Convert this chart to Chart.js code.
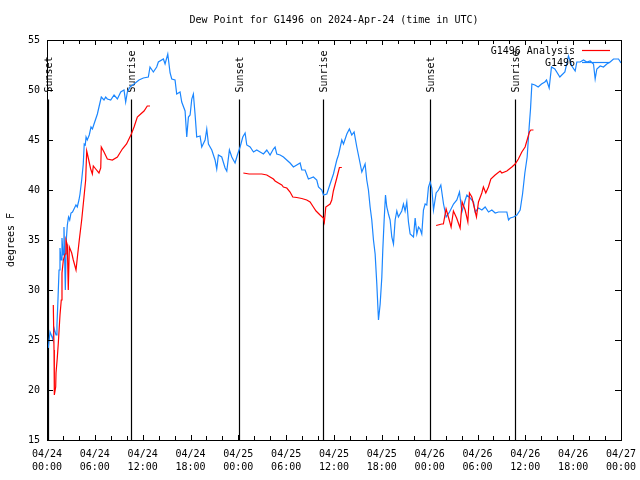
<!DOCTYPE html>
<html><head><meta charset="utf-8">
<script src="https://cdn.jsdelivr.net/npm/chart.js@4"></script>
<style>html,body{margin:0;padding:0;background:#fff}#wrap{width:640px;height:480px}</style>
</head><body><div id="wrap"><canvas id="c" width="640" height="480"></canvas></div>
<script>
const titleText = 'Dew Point for G1496 on 2024-Apr-24 (time in UTC)';
const yAxisTitle = 'degrees F';
const seriesNames = ['G1496 Analysis', 'G1496'];
const tickDates = ['04/24','04/24','04/24','04/24','04/25','04/25','04/25','04/25','04/26','04/26','04/26','04/26','04/27'];
const tickTimes = ['00:00','06:00','12:00','18:00','00:00','06:00','12:00','18:00','00:00','06:00','12:00','18:00','00:00'];
const eventNames = ['Sunset','Sunrise','Sunset','Sunrise','Sunset','Sunrise'];
const eventHours = [0.12, 10.58, 24.05, 34.68, 48.1, 58.65];
const eventTop = 49.05;

// G1496 observations: hours since 04/24 00:00 UTC, degrees F
const obsHours = [0.16,0.38,0.63,0.75,0.88,1.13,1.25,1.38,1.51,1.63,1.76,1.88,2.01,2.13,2.30,2.42,2.55,2.70,2.85,3.01,3.20,3.45,3.63,3.80,4.01,4.14,4.35,4.55,4.67,4.80,4.90,5.05,5.30,5.52,5.70,5.90,6.32,6.52,6.81,7.15,7.36,7.57,7.99,8.41,8.83,9.25,9.66,9.87,10.08,10.41,10.92,11.54,12.08,12.71,12.92,13.34,13.76,13.97,14.60,14.81,15.15,15.44,15.65,16.06,16.27,16.69,16.90,17.32,17.53,17.74,17.95,18.16,18.36,18.57,18.78,19.20,19.41,19.83,20.04,20.25,20.67,21.08,21.29,21.50,21.92,22.34,22.55,22.88,23.18,23.38,23.59,23.88,24.22,24.56,24.85,25.06,25.48,25.90,26.31,26.73,27.15,27.57,27.98,28.40,28.61,28.82,29.24,29.66,30.07,30.49,30.91,31.33,31.75,31.96,32.37,32.79,33.42,33.84,34.05,34.47,34.68,35.10,35.51,35.93,36.35,36.56,36.98,37.19,37.61,37.93,38.23,38.52,38.86,39.19,39.49,39.90,40.11,40.32,40.53,40.74,40.95,41.16,41.37,41.58,41.79,42.00,42.12,42.29,42.46,42.62,42.83,43.04,43.25,43.46,43.67,43.88,44.08,44.50,44.71,44.92,45.13,45.34,45.55,45.97,46.18,46.39,46.60,46.80,47.01,47.22,47.43,47.64,47.85,48.06,48.27,48.48,48.81,49.11,49.40,49.74,50.07,50.49,50.99,51.41,51.74,52.04,52.46,52.67,53.08,53.50,53.71,54.13,54.55,54.96,55.38,55.80,56.22,56.63,57.05,57.68,57.89,58.10,58.52,58.94,59.35,59.65,59.94,60.23,60.48,60.65,60.82,61.20,61.61,62.03,62.45,62.66,62.99,63.28,63.70,64.33,64.96,65.41,65.83,66.25,66.46,66.88,67.30,67.71,68.13,68.55,68.76,68.97,69.39,69.80,70.22,70.64,71.06,71.69,72.00];
const obsValues = [24.2,25.8,25.3,25.0,26.2,25.5,26.5,29.1,32.0,34.2,33.0,35.2,33.5,36.3,30.0,35.0,36.5,37.3,37.0,37.7,37.8,38.2,38.5,38.3,39.0,39.6,41.0,42.6,44.6,44.5,45.3,45.0,45.5,46.3,46.1,46.6,47.6,48.3,49.3,49.0,49.3,49.1,49.0,49.5,49.1,49.8,50.0,48.8,49.8,50.3,50.6,51.0,51.2,51.3,52.3,51.8,52.3,52.8,53.1,52.6,53.6,51.7,51.1,51.0,49.6,49.8,48.8,47.9,45.3,47.3,47.5,49.1,49.6,47.6,45.3,45.4,44.3,45.0,46.1,44.6,44.0,43.0,42.1,43.5,43.3,42.2,41.9,44.0,43.3,43.0,42.7,43.5,44.3,45.3,45.7,44.5,44.3,43.8,44.0,43.8,43.6,44.0,43.5,44.1,44.3,43.6,43.5,43.3,43.0,42.7,42.3,42.5,42.7,42.0,42.0,41.1,41.3,41.0,40.3,40.0,39.5,39.6,40.6,41.6,43.0,43.5,45.0,44.6,45.6,46.1,45.5,45.8,44.3,43.0,41.8,42.6,41.0,40.0,38.3,37.0,35.0,33.6,30.6,27.0,28.6,31.3,34.0,37.0,39.5,38.3,37.6,37.0,35.3,34.6,37.0,37.9,37.3,37.9,38.6,37.9,38.8,36.8,35.6,35.3,37.2,35.6,36.3,36.1,35.6,38.0,38.6,38.5,40.3,40.8,40.2,38.0,39.7,40.0,40.5,38.6,37.3,37.8,38.6,39.0,39.8,37.8,39.0,39.5,39.2,38.8,37.8,38.2,38.0,38.3,37.8,38.0,37.7,37.8,37.8,37.8,37.0,37.2,37.3,37.5,38.0,39.6,41.7,43.3,46.3,48.1,50.6,50.5,50.3,50.6,50.8,51.0,50.2,52.3,52.1,51.3,51.8,53.4,52.4,51.9,52.8,52.8,53.0,52.8,52.9,52.6,51.1,52.1,52.4,52.3,52.6,52.8,53.1,53.1,52.7];

// G1496 Analysis (null = no analysis, line break)
const anaHours = [0.79,0.88,0.92,1.09,1.13,1.29,1.42,1.63,1.79,1.88,2.05,2.26,2.38,2.55,2.67,2.80,3.10,3.30,3.64,3.80,4.05,4.35,4.64,4.85,4.98,5.15,5.48,5.69,5.81,6.11,6.52,6.74,6.81,7.15,7.57,8.20,8.83,9.45,9.98,10.58,10.92,11.33,11.75,12.17,12.58,12.92,18.0,24.63,25.35,26.94,27.57,27.98,28.40,28.61,29.02,29.45,29.65,30.08,30.49,30.83,31.33,31.96,32.58,33.00,33.41,33.75,34.25,34.67,34.79,34.97,35.51,35.72,35.92,36.35,36.68,36.98,42.0,48.81,49.52,49.72,50.06,50.35,50.69,50.98,51.38,51.82,52.07,52.45,52.79,52.99,53.29,53.58,53.87,54.12,54.54,54.74,55.04,55.37,55.67,56.21,56.84,57.05,57.68,58.31,58.72,59.13,59.56,59.97,60.26,60.51,60.69,61.02];
const anaValues = [28.5,24.0,19.5,20.3,21.7,23.2,24.7,27.5,29.0,31.7,33.0,33.6,35.0,34.5,30.0,34.3,33.7,33.0,32.0,33.2,35.0,37.0,39.3,41.0,43.9,43.3,42.1,41.6,42.4,42.1,41.7,42.2,44.3,43.8,43.1,43.0,43.3,44.1,44.6,45.6,46.3,47.3,47.6,47.9,48.4,48.4,null,41.7,41.6,41.6,41.5,41.3,41.1,40.9,40.7,40.5,40.3,40.2,39.8,39.3,39.25,39.15,39.0,38.8,38.3,37.9,37.5,37.2,36.8,38.3,38.6,39.0,39.9,41.2,42.25,42.25,null,36.45,36.6,36.6,38.1,37.3,36.3,37.9,37.2,36.2,38.8,38.0,36.8,39.7,39.3,38.3,37.3,38.8,39.7,40.3,39.7,40.3,41.1,41.5,41.9,41.7,41.9,42.3,42.6,43.1,43.8,44.3,45.1,45.8,46.0,46.0];

const FONT = '"DejaVu Sans Mono", "Liberation Mono", monospace';
const RED = '#ff0000';
const BLUE = '#1a86ff';

const obsData = obsHours.map((h, i) => ({x: h, y: obsValues[i]}));
const anaData = anaHours.map((h, i) => ({x: h, y: anaValues[i]}));

const framePlugin = {
  id: 'frame',
  beforeDatasetsDraw(chart) {
    const {ctx, scales: {x, y}} = chart;
    ctx.save();
    ctx.strokeStyle = '#000';
    ctx.fillStyle = '#000';
    ctx.lineWidth = 1.2;
    ctx.font = '10px ' + FONT;
    eventHours.forEach((h, i) => {
      const px = Math.round(x.getPixelForValue(h)) + 0.5;
      const yb = y.getPixelForValue(15);
      const yt = y.getPixelForValue(eventTop);
      ctx.beginPath(); ctx.moveTo(px, yb); ctx.lineTo(px, yt); ctx.stroke();
      ctx.save();
      ctx.translate(px + 1, yt - 7);
      ctx.rotate(-Math.PI / 2);
      ctx.textAlign = 'left';
      ctx.textBaseline = 'middle';
      ctx.fillText(eventNames[i], 0, 0);
      ctx.restore();
    });
    ctx.restore();
  },
  afterDatasetsDraw(chart) {
    const {ctx, chartArea: a, scales: {x, y}} = chart;
    ctx.save();
    ctx.strokeStyle = '#000';
    ctx.lineWidth = 1;
    ctx.strokeRect(Math.round(a.left) + 0.5, Math.round(a.top) + 0.5, Math.round(a.right - a.left), Math.round(a.bottom - a.top));
    ctx.beginPath();
    for (let v = 15; v <= 55; v += 5) {
      const py = Math.round(y.getPixelForValue(v)) + 0.5;
      ctx.moveTo(a.left, py); ctx.lineTo(a.left + 6, py);
      ctx.moveTo(a.right - 6, py); ctx.lineTo(a.right, py);
    }
    for (let h = 0; h <= 72; h += 2) {
      const px = Math.round(x.getPixelForValue(h)) + 0.5;
      const len = (h % 6 === 0) ? 5 : 4;
      ctx.moveTo(px, a.bottom); ctx.lineTo(px, a.bottom - len);
      ctx.moveTo(px, a.top); ctx.lineTo(px, a.top + len);
    }
    ctx.stroke();
    // legend
    ctx.font = '10px ' + FONT;
    ctx.textAlign = 'right';
    ctx.textBaseline = 'middle';
    ctx.fillStyle = '#000';
    const lx = a.right - 46;
    const rows = [{t: seriesNames[0], c: RED, y: a.top + 10}, {t: seriesNames[1], c: BLUE, y: a.top + 22}];
    rows.forEach(r => {
      ctx.fillText(r.t, lx, r.y + 1);
      ctx.strokeStyle = r.c;
      ctx.lineWidth = 1.2;
      ctx.beginPath();
      ctx.moveTo(lx + 7, Math.round(r.y) + 0.5);
      ctx.lineTo(lx + 35, Math.round(r.y) + 0.5);
      ctx.stroke();
    });
    ctx.restore();
  }
};

Chart.defaults.color = '#000';
Chart.defaults.font.family = FONT;
Chart.defaults.font.size = 10;

new Chart(document.getElementById('c'), {
  type: 'line',
  data: {
    datasets: [
      {label: seriesNames[0], data: anaData, borderColor: RED, borderWidth: 1.2, pointRadius: 0, tension: 0, spanGaps: false},
      {label: seriesNames[1], data: obsData, borderColor: BLUE, borderWidth: 1.2, pointRadius: 0, tension: 0}
    ]
  },
  options: {
    responsive: false,
    animation: false,
    events: [],
    layout: {padding: {left: 0, right: 19, top: 0, bottom: 0}},
    plugins: {
      legend: {display: false},
      tooltip: {enabled: false},
      title: {display: true, text: titleText, color: '#000', fullSize: false,
        font: {family: FONT, size: 10, weight: 'normal', lineHeight: 1.2},
        padding: {top: 14, bottom: 14}}
    },
    scales: {
      x: {
        type: 'linear', min: 0, max: 72,
        grid: {display: false, drawTicks: false},
        border: {display: false},
        ticks: {stepSize: 6, padding: 8, maxRotation: 0, autoSkip: false,
          font: {family: FONT, size: 10, lineHeight: 1.3},
          callback: (v) => { const i = Math.round(v / 6); return [tickDates[i], tickTimes[i]]; }},
        afterFit: (s) => { s.height = 40; s.paddingLeft = 0; s.paddingRight = 0; }
      },
      y: {
        min: 15, max: 55,
        grid: {display: false, drawTicks: false},
        border: {display: false},
        ticks: {stepSize: 5, padding: 7, font: {family: FONT, size: 10}},
        title: {display: true, text: yAxisTitle, color: '#000', padding: {top: 5, bottom: 0},
          font: {family: FONT, size: 10}},
        afterFit: (s) => { s.width = 47; s.paddingTop = 0; s.paddingBottom = 0; }
      }
    }
  },
  plugins: [framePlugin]
});
</script>
</body></html>
